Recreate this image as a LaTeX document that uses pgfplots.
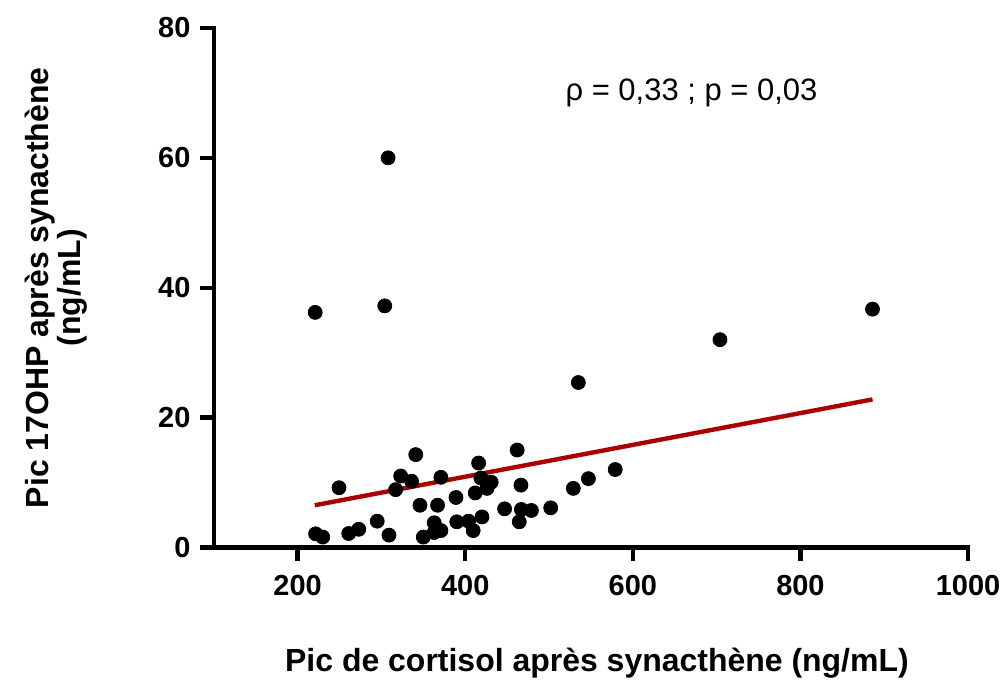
\documentclass[border=0pt]{standalone}
\usepackage{fontspec}
\setmainfont{Liberation Sans}
\usepackage{pgfplots}
\pgfplotsset{compat=1.18}
\definecolor{regred}{RGB}{170,0,0}
\begin{document}
\begin{tikzpicture}
\begin{axis}[
  name=ax,
  scale only axis, width=377.5pt, height=260pt,
  xmin=100, xmax=1000, ymin=0, ymax=80,
  axis x line=bottom, axis y line=left,
  axis line style={-, line width=2.2pt, line cap=rect},
  xtick={200,400,600,800,1000}, ytick={0,20,40,60,80},
  tick align=outside, major tick length=7pt,
  tick style={line width=2.2pt, black},
  /pgf/number format/assume math mode=true,
  /pgf/number format/1000 sep={},
  tick label style={font=\bfseries\fontsize{14.5}{16}\selectfont, inner sep=1pt},
  xticklabel style={yshift=-5.5pt},
  yticklabel style={xshift=-3.5pt},
  xlabel={Pic de cortisol après synacthène (ng/mL)},
  xlabel style={font=\bfseries\fontsize{16}{18}\selectfont, at={(axis description cs:0.508,-0.238)}, anchor=base},
  ylabel={Pic 17OHP après synacthène\\(ng/mL)},
  ylabel style={font=\bfseries\fontsize{16}{14.5}\selectfont, align=center, at={(axis description cs:-0.209,0.5)}, anchor=center},
  clip=false,
]
\addplot[only marks, mark=*, mark size=3.5pt, black] coordinates {
(221,36.2) (308,60.0) (304,37.2) (535,25.4) (704,32.0) (886,36.7)
(221.5,2.1) (230,1.6) (249.4,9.2) (261,2.15) (273,2.8) (295,4.05)
(309,1.9) (317,8.9) (323,11.0) (336,10.2) (341,14.3) (346,6.5)
(350,1.6) (363,3.8) (363,2.3) (371,2.6) (367,6.5) (371,10.8)
(389,7.7) (390,3.95) (404,4.05) (409.5,2.6) (412,8.4) (416,13.0)
(418.7,10.7) (420,4.7) (426,9.1) (431,10.05) (447,5.95) (462,15.0)
(466.5,9.6) (467,5.85) (464.5,3.95) (479,5.7) (502,6.1) (529,9.1)
(547,10.6) (579,12.0)
};
\addplot[regred, line width=2.2pt] coordinates {(220.5,6.5) (886,22.8)};
\node[font=\fontsize{15.5}{18}\selectfont] at (axis cs:670,70) {ρ = 0,33 ; p = 0,03};
\end{axis}
\path ([xshift=-107pt,yshift=-66pt]ax.south west) rectangle ([xshift=17.5pt,yshift=14pt]ax.north east);
\end{tikzpicture}
\end{document}
